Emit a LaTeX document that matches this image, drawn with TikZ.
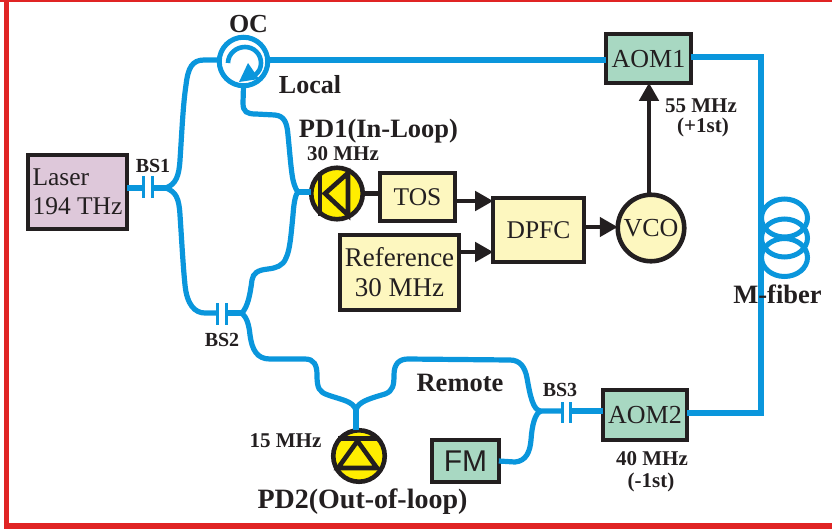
\documentclass[tikz,border=0pt]{standalone}
\usepackage{fontspec}
\setmainfont{Liberation Serif}
\newfontfamily\fmfont{Liberation Sans}
\usetikzlibrary{arrows.meta}
\definecolor{fibre}{HTML}{0A96DC}
\definecolor{ink}{HTML}{231F20}
\definecolor{frame}{HTML}{E02424}
\definecolor{pdy}{HTML}{FFEE00}
\definecolor{paley}{HTML}{FDF7BF}
\definecolor{paleg}{HTML}{A8D8C2}
\definecolor{palep}{HTML}{DEC8DA}
\newcommand{\fs}[1]{\fontsize{#1}{#1}\selectfont}
\tikzset{
  fiber/.style={draw=fibre,line width=5.2pt},
  bsbar/.style={draw=fibre,line width=3pt},
  wire/.style={draw=ink,line width=4.6pt},
  sig/.style={draw=ink,line width=4.6pt,-{Triangle[width=19pt,length=18pt]}},
  box/.style={draw=ink,line width=4.4pt,rectangle,inner sep=0pt,outer sep=0pt,text=ink,align=center},
  yellowbox/.style={box,fill=paley},
  greenbox/.style={box,fill=paleg},
  pd/.style={circle,draw=ink,fill=pdy,line width=4.6pt,inner sep=0pt,outer sep=0pt,minimum size=51.5pt},
  lab/.style={font=\bfseries\fs{#1},text=ink,anchor=base,inner sep=0pt},
  lab/.default=21
}
\begin{document}
\begin{tikzpicture}[x=1pt,y=-1pt]
\useasboundingbox (0,0) rectangle (832,531);
% frame
\fill[frame] (0,0) rectangle (832,2);
\fill[frame] (4,0) rectangle (9,529);
\fill[frame] (4,523) rectangle (832,529);

% boxes and devices
\node[box,fill=palep,minimum width=98.6pt,minimum height=73.6pt,align=left,font=\fontsize{25.5}{29.5}\selectfont] (laser) at (77.5,192) {Laser\\194 THz};
\node[circle,draw=fibre,fill=white,line width=5pt,inner sep=0pt,outer sep=0pt,minimum size=48.5pt] (oc) at (243.5,61.5) {};
\node[greenbox,minimum width=84.6pt,minimum height=48.6pt,font=\fs{26},text height=17pt,text depth=0pt] (aom1) at (648.5,58.5) {AOM1};
\node[greenbox,minimum width=83.6pt,minimum height=49.6pt,font=\fs{26},text height=17pt,text depth=0pt] (aom2) at (645,415) {AOM2};
\node[pd] (pd1) at (337,193.5) {};
\node[pd] (pd2) at (359,456) {};
\node[yellowbox,minimum width=74.6pt,minimum height=47.6pt,font=\fs{25.5},text height=16.5pt,text depth=0pt] (tos) at (417.5,197) {TOS};
\node[yellowbox,minimum width=90.6pt,minimum height=63.6pt,font=\fs{25.5},text height=17pt,text depth=0pt] (dpfc) at (538.5,230) {DPFC};
\node[yellowbox,minimum width=118.6pt,minimum height=74.6pt,font=\fontsize{27}{30}\selectfont] (ref) at (399.5,272.5) {Reference\\30 MHz};
\node[circle,draw=ink,fill=paley,line width=4.6pt,inner sep=0pt,outer sep=0pt,minimum size=66.5pt,text=ink,font=\fs{26},text height=17pt,text depth=0pt] (vco) at (651,228) {VCO};
\node[greenbox,minimum width=66.6pt,minimum height=41.6pt,font=\fmfont\fs{30},text height=21pt,text depth=0pt] (fm) at (465.5,461) {FM};

% named fibre points
\coordinate (bs1a) at (143,188);
\coordinate (bs1b) at (152,188);
\coordinate (j1) at (166,188);
\coordinate (bs2a) at (217,313);
\coordinate (bs2b) at (226,313);
\coordinate (j2) at (242,313);
\coordinate (j3) at (356,410);
\coordinate (bs3a) at (562,411);
\coordinate (bs3b) at (570,411);
\coordinate (j4) at (541,411);
\coordinate (j5) at (298,192);
\coordinate (corner1) at (761,57);
\coordinate (corner2) at (761,413);

% fibres
\draw[fiber] (laser.east |- bs1a) -- (bs1a);
\draw[fiber] (bs1b) -- (j1);
\draw[fiber] (j1) .. controls (176,184) and (179,176) .. (180,160)
   .. controls (182,130) and (183,105) .. (186,85)
   .. controls (188,68) and (192,60) .. (204,60) -- (oc.west |- 0,60);
\draw[fiber] (j1) .. controls (176,192) and (179,198) .. (180,215)
   .. controls (182,245) and (183,265) .. (185,285)
   .. controls (187,305) and (195,313) .. (205,313) -- (bs2a);
\draw[fiber] (bs2b) -- (j2);
\draw[fiber] (oc.south) -- (243,103) .. controls (243,112) and (247,114) .. (256,114)
   -- (275,115) .. controls (284,116) and (287,122) .. (288,135)
   .. controls (290,155) and (291,170) .. (293,180)
   .. controls (295,188) and (297,191) .. (j5);
\draw[fiber] (pd1.west |- j5) -- (j5);
\draw[fiber] (j5) .. controls (296,194) and (294,200) .. (293,215)
   .. controls (291,235) and (290,250) .. (286,258)
   .. controls (283,266) and (276,268) .. (268,269)
   .. controls (258,270) and (253,273) .. (252,280)
   .. controls (250,295) and (248,306) .. (j2);
\draw[fiber] (j2) .. controls (247,318) and (249,325) .. (250,335)
   .. controls (252,350) and (257,359) .. (270,359)
   -- (305,359) .. controls (314,359) and (317,365) .. (317,375)
   .. controls (317,388) and (319,392) .. (328,395)
   .. controls (342,400) and (353,401) .. (j3);
\draw[fiber] (pd2.north -| j3) -- (j3);
\draw[fiber] (j3) .. controls (358,402) and (368,399) .. (385,394)
   .. controls (393,391) and (394,385) .. (394,375)
   .. controls (394,364) and (399,359) .. (408,359)
   -- (510,360) .. controls (520,360) and (525,367) .. (527,378)
   .. controls (530,395) and (533,411) .. (j4) -- (bs3a);
\draw[fiber] (fm.east) -- (515,462) .. controls (526,461) and (530,452) .. (531,440)
   .. controls (532,425) and (535,413) .. (j4);
\draw[fiber] (bs3b) -- (aom2.west |- bs3b);
\draw[fiber] (oc.east |- 0,60) -- (aom1.west |- 0,60);
\draw[fiber] (aom1.east |- corner1) -- (corner1) -- (corner2) -- (aom2.east |- corner2);
% fibre coil
\draw[fibre,line width=5pt] (784.5,218) ellipse [x radius=23pt,y radius=19pt];
\draw[fibre,line width=5pt] (784.5,238) ellipse [x radius=23pt,y radius=19pt];
\draw[fibre,line width=5pt] (784.5,257.5) ellipse [x radius=23pt,y radius=19pt];

% couplers
\draw[bsbar] (bs1a |- 0,176) -- (bs1a |- 0,198);
\draw[bsbar] (bs1b |- 0,176) -- (bs1b |- 0,198);
\draw[bsbar] (bs2a |- 0,303) -- (bs2a |- 0,325);
\draw[bsbar] (bs2b |- 0,303) -- (bs2b |- 0,325);
\draw[bsbar] (bs3a |- 0,402) -- (bs3a |- 0,423);
\draw[bsbar] (bs3b |- 0,402) -- (bs3b |- 0,423);

% circulator arrow
\draw[fibre,line width=4.6pt] (228,63) .. controls (228,54) and (236,47) .. (245,47)
   .. controls (254,47) and (261,54) .. (261,63) .. controls (261,68) and (259,72) .. (255,75);
\fill[fibre] (239,82) -- (248,63) -- (259,79) -- cycle;

% diode symbols
\draw[ink,line width=4.6pt,line join=miter] (348,173) -- (348,215) -- (325,193.5) -- cycle;
\draw[ink,line width=4.6pt] (320,172) -- (320,216);
\draw[ink,line width=4.6pt,line join=miter] (357.5,441) -- (377,468) -- (338,468) -- cycle;
\draw[ink,line width=4.6pt] (338,438.5) -- (379,438.5);

% electrical connections
\draw[wire] (pd1.east) -- (tos.west |- pd1.east);
\draw[sig] (tos.east |- 0,201) -- (dpfc.west |- 0,201);
\draw[sig] (ref.east |- 0,252) -- (dpfc.west |- 0,252);
\draw[sig] (dpfc.east |- 0,227) -- (vco.west |- 0,227);
\draw[sig] (vco.north -| 649,0) -- (aom1.south -| 649,0);

% labels
\node[lab=26] (tOC) at (248.5,32) {OC};
\node[lab=26] (tLocal) at (310,93) {Local};
\node[lab=26.5] (tPD1) at (378.5,137) {PD1(In-Loop)};
\node[lab=21] (t30) at (343,160) {30 MHz};
\node[lab=20] (tBS1) at (153,172) {BS1};
\node[lab=20] (tBS2) at (222,346) {BS2};
\node[lab=20] (tBS3) at (560,396) {BS3};
\node[lab=26.5] (tRemote) at (460,391) {Remote};
\node[lab=21] (t15) at (285.5,447) {15 MHz};
\node[lab=28] (tPD2) at (362.5,508) {PD2(Out-of-loop)};
\node[lab=21] (t55) at (701,112) {55 MHz};
\node[lab=21] (t1st) at (703,132) {(+1st)};
\node[lab=21] (t40) at (652,465) {40 MHz};
\node[lab=21] (tm1st) at (651,487) {(-1st)};
\node[lab=26.5] (tMf) at (777.5,303) {M-fiber};
\end{tikzpicture}
\end{document}
